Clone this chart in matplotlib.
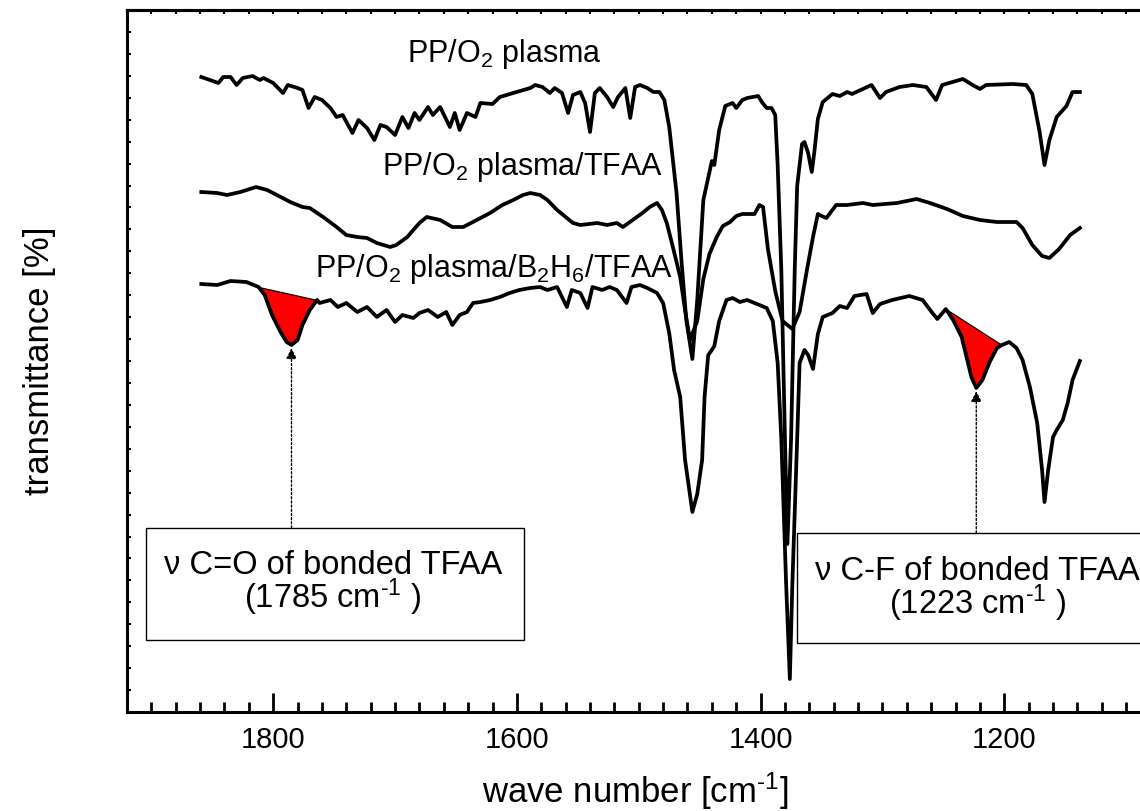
import numpy as np
import matplotlib
matplotlib.use("Agg")
import matplotlib.pyplot as plt
from matplotlib.ticker import MultipleLocator, NullFormatter
from matplotlib.patches import Rectangle

plt.rcParams['font.family'] = ['Liberation Sans', 'DejaVu Sans']
plt.rcParams['mathtext.fontset'] = 'custom'
plt.rcParams['mathtext.rm'] = 'Liberation Sans'
plt.rcParams['mathtext.it'] = 'Liberation Sans:italic'
plt.rcParams['mathtext.bf'] = 'Liberation Sans:bold'

# PP/O2 plasma (top trace)
wA = [1859, 1845, 1841, 1835, 1830, 1825, 1817, 1811, 1808, 1800,
      1792, 1788, 1780, 1776, 1771, 1766, 1760, 1753, 1748, 1743,
      1735, 1730, 1723, 1717, 1712, 1707, 1700, 1694, 1689, 1684,
      1680, 1673, 1669, 1663, 1655, 1651, 1647, 1641, 1634, 1630,
      1620, 1614, 1603, 1589, 1585, 1579, 1573, 1569, 1563, 1558,
      1554, 1548, 1544, 1540, 1536, 1532, 1526, 1521, 1517, 1511,
      1507, 1503, 1499, 1493, 1488, 1483, 1479, 1475, 1469, 1465,
      1461, 1456, 1452, 1447, 1440, 1438, 1434, 1429, 1423, 1420,
      1415, 1411, 1402, 1399, 1395, 1391, 1388, 1386, 1383, 1380,
      1378, 1375, 1372, 1370, 1366, 1364, 1361, 1358, 1356, 1353,
      1349, 1341, 1335, 1329, 1325, 1309, 1302, 1297, 1286, 1275,
      1264, 1256, 1251, 1234, 1226, 1220, 1215, 1193, 1182, 1177,
      1171, 1167, 1163, 1157, 1149, 1144, 1138]
tA = [635, 629, 635, 635, 627, 634, 636, 632, 634, 629,
      619, 627, 624, 622, 604, 615, 612, 604, 595, 597,
      579, 592, 584, 572, 587, 585, 577, 595, 584, 599,
      592, 605, 597, 605, 585, 599, 582, 599, 595, 609,
      608, 615, 619, 624, 627, 625, 619, 624, 619, 599,
      617, 620, 609, 580, 619, 624, 615, 605, 615, 624,
      594, 625, 627, 624, 620, 620, 612, 585, 519, 452,
      392, 353, 412, 512, 551, 547, 582, 606, 609, 604,
      612, 614, 616, 610, 604, 604, 597, 547, 442, 272,
      168, 273, 442, 526, 568, 570, 559, 540, 559, 593,
      610, 618, 616, 620, 618, 627, 614, 620, 625, 627,
      625, 612, 627, 633, 627, 623, 627, 628, 627, 618,
      580, 547, 572, 595, 606, 620, 620]

# PP/O2 plasma/TFAA (middle trace)
wB = [1859, 1846, 1838, 1827, 1814, 1805, 1797, 1786, 1776, 1770,
      1759, 1748, 1740, 1731, 1723, 1715, 1704, 1699, 1690, 1680,
      1674, 1663, 1653, 1644, 1633, 1622, 1612, 1603, 1595, 1589,
      1581, 1575, 1567, 1562, 1554, 1548, 1534, 1526, 1518, 1513,
      1505, 1497, 1491, 1485, 1481, 1477, 1472, 1466, 1462, 1458,
      1452, 1447, 1442, 1436, 1431, 1425, 1420, 1415, 1405, 1401,
      1398, 1394, 1388, 1382, 1374, 1368, 1362, 1357, 1353, 1350,
      1346, 1338, 1329, 1316, 1308, 1288, 1272, 1261, 1247, 1234,
      1220, 1206, 1190, 1185, 1177, 1169, 1163, 1155, 1146, 1138]
tB = [520, 519, 517, 520, 525, 522, 517, 510, 505, 504,
      495, 485, 477, 475, 474, 469, 465, 467, 475, 489,
      495, 492, 485, 485, 492, 499, 507, 512, 517, 519,
      517, 512, 502, 497, 489, 487, 489, 487, 489, 485,
      492, 499, 505, 509, 502, 489, 465, 435, 402, 372,
      391, 433, 458, 475, 486, 490, 496, 498, 498, 507,
      505, 463, 421, 391, 383, 400, 442, 475, 498, 496,
      494, 507, 507, 509, 507, 509, 513, 509, 503, 496,
      492, 490, 490, 484, 467, 456, 454, 463, 477, 484]

# PP/O2 plasma/B2H6/TFAA (bottom trace)
wC = [1859, 1846, 1835, 1822, 1812, 1807, 1801, 1794, 1789, 1785,
      1780, 1776, 1770, 1764, 1762, 1753, 1747, 1740, 1731, 1723,
      1715, 1707, 1700, 1694, 1685, 1680, 1673, 1665, 1658, 1653,
      1647, 1641, 1636, 1630, 1622, 1614, 1606, 1598, 1589, 1581,
      1575, 1567, 1559, 1555, 1548, 1542, 1538, 1530, 1524, 1518,
      1510, 1506, 1499, 1493, 1485, 1480, 1475, 1471, 1466, 1462,
      1456, 1452, 1448, 1446, 1443, 1440, 1438, 1434, 1428, 1423,
      1417, 1411, 1403, 1395, 1390, 1386, 1383, 1379, 1376, 1374,
      1370, 1368, 1364, 1361, 1357, 1353, 1349, 1341, 1335, 1329,
      1323, 1313, 1308, 1302, 1292, 1278, 1267, 1259, 1255, 1248,
      1242, 1235, 1231, 1227, 1223, 1218, 1212, 1206, 1202, 1196,
      1190, 1185, 1179, 1173, 1169, 1167, 1164, 1160, 1157, 1152,
      1148, 1144, 1138]
tC = [428, 427, 431, 430, 425, 417, 397, 380, 370, 367,
      372, 387, 402, 412, 409, 412, 405, 409, 400, 405,
      395, 402, 390, 397, 394, 399, 402, 395, 400, 387,
      397, 400, 409, 410, 412, 415, 419, 422, 424, 425,
      422, 425, 405, 422, 419, 404, 425, 422, 425, 422,
      409, 425, 427, 424, 419, 409, 379, 342, 315, 252,
      200, 218, 252, 315, 357, 362, 366, 391, 412, 414,
      410, 412, 408, 404, 391, 349, 273, 126, 33, 126,
      273, 349, 362, 357, 343, 378, 395, 399, 406, 404,
      416, 418, 399, 408, 412, 416, 412, 399, 393, 403,
      392, 375, 355, 335, 324, 332, 350, 364, 367, 370,
      364, 352, 325, 289, 242, 210, 242, 275, 282, 292,
      309, 332, 351]

labels = ["PP/O$_\\mathregular{2}$ plasma",
          "PP/O$_\\mathregular{2}$ plasma/TFAA",
          "PP/O$_\\mathregular{2}$ plasma/B$_\\mathregular{2}$H$_\\mathregular{6}$/TFAA"]
xticks = [1800, 1600, 1400, 1200]
hy = "\u2010"   # short hyphen for the superscripts

fig = plt.figure(figsize=(11.4, 8.11), dpi=100)
ax = fig.add_axes([127/1140, 99/811, 1121/1140, 702/811])

for w, t in [(wA, tA), (wB, tB), (wC, tC)]:
    ax.plot(w, t, color='black', lw=2.7, solid_joinstyle='round', zorder=3)


def shade(w1, w2):
    w = np.array(wC)
    t = np.array(tC)
    m = (w <= w1) & (w >= w2)
    ws, ts = w[m], t[m]
    base = np.interp(ws, [ws[-1], ws[0]], [ts[-1], ts[0]])
    ax.fill_between(ws, ts, base, facecolor='red', edgecolor='black', lw=0.9, zorder=2)


shade(1812, 1764)
shade(1248, 1202)

ax.text(1690, 650, labels[0], fontsize=22, ha='left', va='baseline')
ax.text(1711, 537, labels[1], fontsize=22, ha='left', va='baseline')
ax.text(1766, 435, labels[2], fontsize=22, ha='left', va='baseline')

# annotation boxes
ax.add_patch(Rectangle((1594, 72), 310, 112, fc='white', ec='black', lw=1, zorder=4))
ax.text(1751, 128, "\u03bd C=O of bonded TFAA\n(1785 cm$^{\\mathregular{" + hy + "1}}$ )",
        fontsize=23.5, ha='center', va='center', multialignment='center',
        linespacing=0.85, zorder=5)
ax.add_patch(Rectangle((1059, 69), 311, 110, fc='white', ec='black', lw=1, zorder=4))
ax.text(1222, 122, "\u03bd C-F of bonded TFAA\n(1223 cm$^{\\mathregular{" + hy + "1}}$ )",
        fontsize=23.5, ha='center', va='center', multialignment='center',
        linespacing=0.85, zorder=5)

arr = dict(arrowstyle='-|>', color='black', lw=1, ls=(0, (1.5, 1.5)), mutation_scale=16,
           shrinkA=0, shrinkB=0)
ax.annotate('', xy=(1785, 364), xytext=(1785, 184), arrowprops=arr, zorder=5)
ax.annotate('', xy=(1223, 321), xytext=(1223, 179), arrowprops=arr, zorder=5)

ax.set_xlim(1920, 1000)
ax.set_ylim(0, 702)

ax.set_xticks(xticks)
ax.xaxis.set_minor_locator(MultipleLocator(20))
ax.yaxis.set_major_locator(MultipleLocator(702/32))
ax.yaxis.set_major_formatter(NullFormatter())
ax.tick_params(axis='x', which='major', direction='in', length=14, width=2, labelsize=21, pad=10)
ax.tick_params(axis='x', which='minor', direction='in', length=7, width=2)
ax.tick_params(axis='y', which='major', direction='in', length=3, width=1.5)

sec = ax.secondary_xaxis('top')
sec.xaxis.set_major_locator(MultipleLocator(20))
sec.xaxis.set_major_formatter(NullFormatter())
sec.tick_params(direction='in', length=3, width=1.5)
sec.spines['top'].set_linewidth(2.2)

for s in ax.spines.values():
    s.set_linewidth(2.2)

fig.text(635/1140, 1 - 803/811, "wave number [cm$^{\\mathregular{" + hy + "1}}$]", fontsize=25,
         ha='center', va='baseline')
fig.text(40/1140, 1 - 361/811, "transmittance [%]", fontsize=25, rotation=90,
         ha='center', va='center')

fig.savefig("out.png", dpi=100)
